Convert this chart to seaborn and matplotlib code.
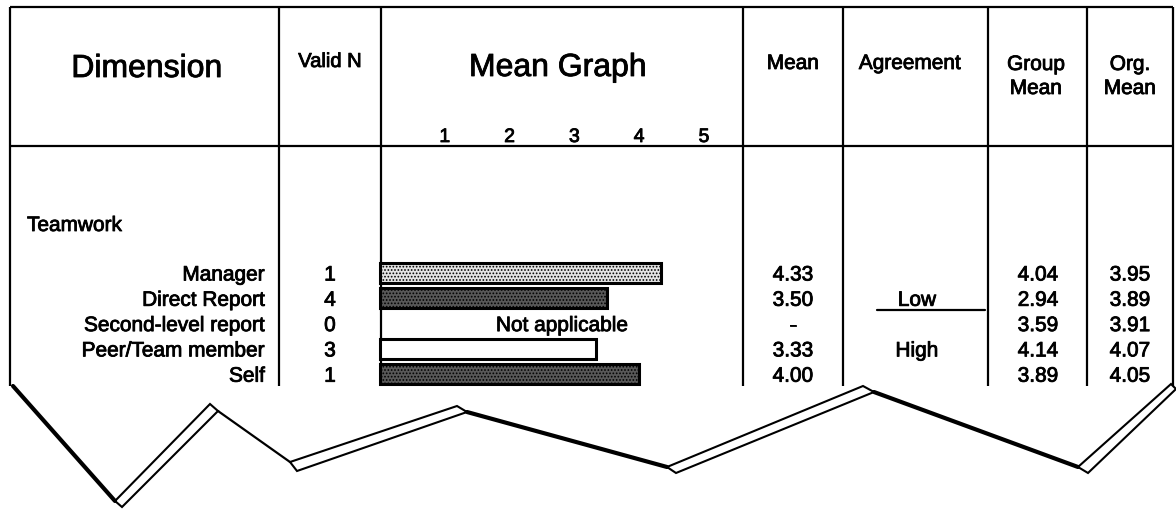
import numpy as np
import pandas as pd
import matplotlib
matplotlib.use("Agg")
import matplotlib.pyplot as plt
import matplotlib.transforms as mtransforms
import matplotlib.patheffects as pe
from matplotlib.patches import Polygon
import seaborn as sns

# ---- report data -------------------------------------------------------
dimension = "Teamwork"
raters = ["Manager", "Direct Report", "Second-level report", "Peer/Team member", "Self"]
valid_n = [1, 4, 0, 3, 1]
means = [4.33, 3.50, np.nan, 3.33, 4.00]
agreement = ["", "Low", "", "High", ""]
group_means = [4.04, 2.94, 3.59, 4.14, 3.89]
org_means = [3.95, 3.89, 3.91, 4.07, 4.05]
scale_ticks = [1, 2, 3, 4, 5]

# ---- styling -----------------------------------------------------------
sns.set_theme(style="white")
plt.rcParams["font.family"] = ["Liberation Sans", "DejaVu Sans"]
plt.rcParams["hatch.linewidth"] = 0.8

bar_style = {
    "Manager": dict(facecolor="#e4e4e4", hatch="....."),
    "Direct Report": dict(facecolor="#585858", hatch="....."),
    "Peer/Team member": dict(facecolor="white", hatch=None),
    "Self": dict(facecolor="#585858", hatch="....."),
}

# slightly heavier strokes, like a printed form
ink = [pe.withStroke(linewidth=0.6, foreground="black")]


def put(ax, x, y, s, size, ha="center", **kw):
    return ax.text(x, y, s, ha=ha, va="baseline", fontsize=size,
                   color="black", path_effects=ink, **kw)


W, H = 1176, 510
fig = plt.figure(figsize=(W / 100, H / 100), dpi=100)
fig.patch.set_facecolor("white")

# page axes in pixel units: table frame, texts, torn edge
page = fig.add_axes([0, 0, 1, 1])
page.set_xlim(0, W)
page.set_ylim(H, 0)
page.axis("off")

col_x = [10, 279, 381, 743, 843, 988, 1087, 1173]
top_y, head_y, bottom_y = 8, 147, 387
rule = dict(color="black", lw=1.6, solid_capstyle="butt")
page.plot([col_x[0], col_x[-1]], [top_y, top_y], **rule)
page.plot([col_x[0], col_x[-1]], [head_y, head_y], **rule)
for x in col_x:
    page.plot([x, x], [top_y, bottom_y], **rule)

# header
big, small, body, tick_fs = 23, 15, 15, 14
put(page, 147, 78, "Dimension", big)
put(page, 330, 68, "Valid N", 14.5)
put(page, 558, 77, "Mean Graph", big)
put(page, 793, 70, "Mean", small)
put(page, 910, 70, "Agreement", small)
for cx, first in [(1036, "Group"), (1130, "Org.")]:
    put(page, cx, 71, first, small)
    put(page, cx, 95, "Mean", small)

# ---- mean graph --------------------------------------------------------
row_y0, row_step = 274, 25.3
x0_px, unit_px = 380, 64.8
n = len(raters)
top_px = row_y0 - row_step / 2
bar_ax = fig.add_axes([x0_px / W, 1 - (top_px + n * row_step) / H,
                       5 * unit_px / W, n * row_step / H])
df = pd.DataFrame({"rater": raters, "mean": means})
sns.barplot(data=df, x="mean", y="rater", order=raters, orient="h",
            width=0.8, color="white", edgecolor="black", linewidth=2.2,
            errorbar=None, ax=bar_ax)
bar_ax.set_xlim(0, 5)
bar_ax.set_ylim(n - 0.5, -0.5)
bar_ax.axis("off")
bar_ax.patch.set_alpha(0)
for p in bar_ax.patches:
    idx = int(round(p.get_y() + p.get_height() / 2))
    style = bar_style.get(raters[idx], {})
    p.set_facecolor(style.get("facecolor", "white"))
    if style.get("hatch"):
        p.set_hatch(style["hatch"])
    p.set_clip_on(False)

# scale labels above the graph, positioned on the bar axis scale
tick_tr = mtransforms.blended_transform_factory(bar_ax.transData, page.transData)
for t in scale_ticks:
    put(page, t, 143, str(t), tick_fs, transform=tick_tr)

# ---- body rows ---------------------------------------------------------
put(page, 27, 232, dimension, body, ha="left")
for i, name in enumerate(raters):
    base = row_y0 + i * row_step + 7.5
    put(page, 265, base, name, body, ha="right")
    put(page, 330, base, str(valid_n[i]), body)
    m = means[i]
    put(page, 793, base, "-" if np.isnan(m) else f"{m:.2f}", body)
    if valid_n[i] == 0:
        put(page, 562, base, "Not applicable", body)
    if agreement[i]:
        put(page, 917, base, agreement[i], body)
    put(page, 1038, base, f"{group_means[i]:.2f}", body)
    put(page, 1130, base, f"{org_means[i]:.2f}", body)
# separator under the low-agreement label
low_base = row_y0 + agreement.index("Low") * row_step + 7.5
page.plot([877, 985], [low_base + 4.5, low_base + 4.5], color="black", lw=1.6)

# ---- torn page edge ----------------------------------------------------
thick = dict(color="black", lw=3.0, solid_capstyle="round")
page.plot([13, 115], [387, 502], **thick)
page.plot([218, 290], [412, 463], color="black", lw=1.6)
page.plot([467, 667], [413, 468], **thick)
page.plot([874, 1078], [393, 468], **thick)
bands = [
    [(115, 502), (210, 405), (218, 412), (122, 508)],
    [(290, 463), (457, 407), (467, 413), (297, 472)],
    [(667, 468), (863, 387), (874, 393), (676, 474)],
    [(1078, 468), (1171, 385), (1176, 390), (1088, 474)],
]
for pts in bands:
    page.add_patch(Polygon(pts, closed=True, facecolor="white",
                           edgecolor="black", lw=1.5, joinstyle="miter"))

fig.savefig("out.png", dpi=100, facecolor="white")
